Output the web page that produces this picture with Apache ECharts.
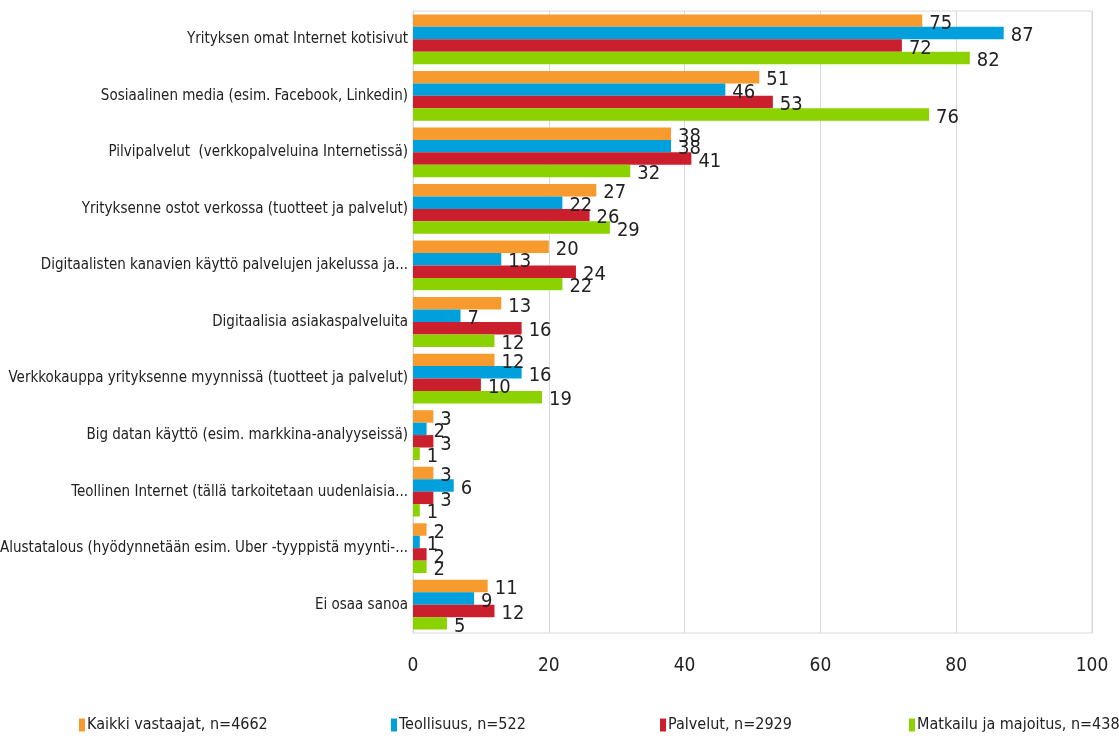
<!DOCTYPE html>
<html>
<head>
<meta charset="utf-8">
<script src="https://cdn.jsdelivr.net/npm/echarts@6/dist/echarts.min.js"></script>
<style>
html,body{margin:0;padding:0;background:#fff;}
#c{width:1119px;height:742px;}
</style>
</head>
<body>
<div id="c"></div>
<script>
const categories = [
  "Yrityksen omat Internet kotisivut",
  "Sosiaalinen media (esim. Facebook, Linkedin)",
  "Pilvipalvelut  (verkkopalveluina Internetissä)",
  "Yrityksenne ostot verkossa (tuotteet ja palvelut)",
  "Digitaalisten kanavien käyttö palvelujen jakelussa ja...",
  "Digitaalisia asiakaspalveluita",
  "Verkkokauppa yrityksenne myynnissä (tuotteet ja palvelut)",
  "Big datan käyttö (esim. markkina-analyyseissä)",
  "Teollinen Internet (tällä tarkoitetaan uudenlaisia...",
  "Alustatalous (hyödynnetään esim. Uber -tyyppistä myynti-...",
  "Ei osaa sanoa"
];
const seriesNames = [
  "Kaikki vastaajat, n=4662",
  "Teollisuus, n=522",
  "Palvelut, n=2929",
  "Matkailu ja majoitus, n=438"
];
const kaikki     = [75, 51, 38, 27, 20, 13, 12, 3, 3, 2, 11];
const teollisuus = [87, 46, 38, 22, 13, 7, 16, 2, 6, 1, 9];
const palvelut   = [72, 53, 41, 26, 24, 16, 10, 3, 3, 2, 12];
const matkailu   = [82, 76, 32, 29, 22, 12, 19, 1, 1, 2, 5];
const xTicks = [0, 20, 40, 60, 80, 100];

const colors = ["#F89B2E", "#00A0DC", "#CC1F2D", "#8CD100"];
const FONT = '"Liberation Sans Narrow", "DejaVu Sans Condensed", "Roboto Condensed", "Liberation Sans", sans-serif';
const allData = [kaikki, teollisuus, palvelut, matkailu];

const chart = echarts.init(document.getElementById('c'));
const legendLefts = [74, 386, 655, 904];

chart.setOption({
  animation: false,
  textStyle: { fontFamily: FONT },
  grid: {
    left: 413, right: 27, top: 11, bottom: 109,
    containLabel: false,
    outerBoundsMode: 'none',
    show: true, borderColor: '#d9d9d9', borderWidth: 1
  },
  legend: seriesNames.map((n, i) => ({
    data: [n],
    left: legendLefts[i],
    top: 712,
    itemWidth: 6,
    itemHeight: 13,
    itemGap: 2,
    icon: 'rect',
    textStyle: { fontFamily: FONT, fontSize: 16, color: '#222', padding: [0, 0, 0, -3] }
  })),
  xAxis: {
    type: 'value',
    min: 0, max: 100, interval: 20,
    axisLine: { show: false },
    axisTick: { show: false },
    splitLine: { lineStyle: { color: '#d9d9d9', width: 1 } },
    axisLabel: {
      fontFamily: FONT, fontSize: 19, color: '#222', margin: 24,
      formatter: v => xTicks.includes(v) ? String(v) : ''
    }
  },
  yAxis: {
    type: 'category',
    inverse: true,
    data: categories,
    axisLine: { show: true, lineStyle: { color: '#d9d9d9' } },
    axisTick: { show: false },
    axisLabel: { fontFamily: FONT, fontSize: 15, color: '#222', margin: 5 }
  },
  series: allData.map((d, i) => ({
    name: seriesNames[i],
    type: 'bar',
    data: d,
    barGap: '0%',
    barCategoryGap: '12%',
    itemStyle: { color: colors[i] },
    label: {
      show: true, position: 'right', distance: 7,
      offset: [0, 3],
      fontFamily: FONT, fontSize: 20, color: '#222'
    }
  }))
});
</script>
</body>
</html>
